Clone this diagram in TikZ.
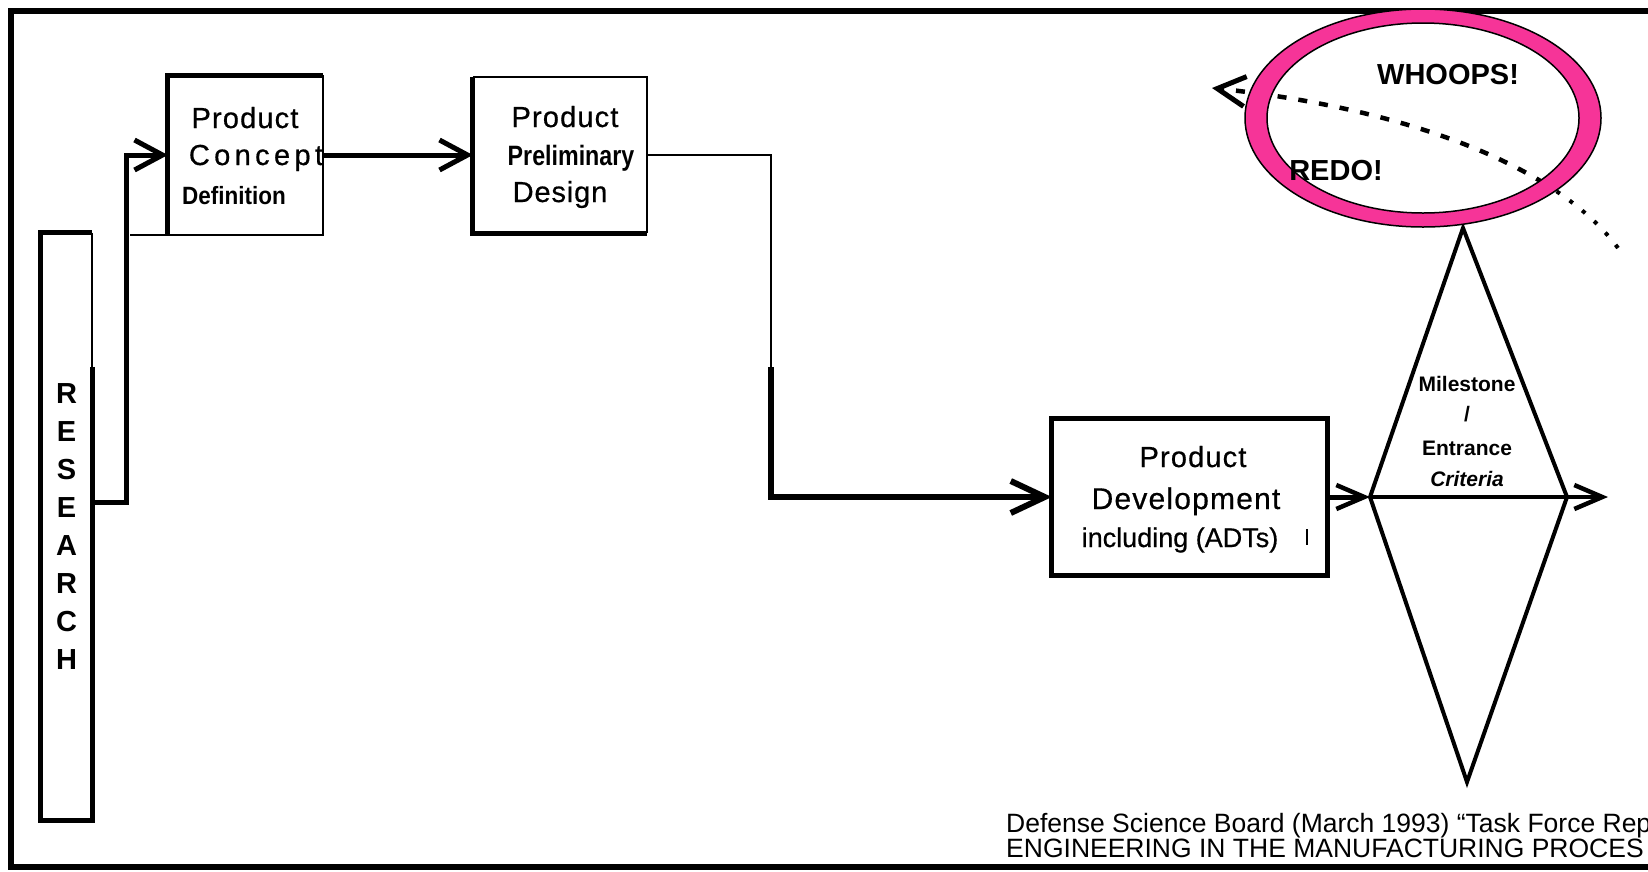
\documentclass[tikz,border=0pt]{standalone}
\usepackage{fontspec}
\usepackage{graphicx}
\setmainfont{Liberation Sans}
\usetikzlibrary{arrows.meta,calc}
\definecolor{ringpink}{RGB}{246,52,152}
\begin{document}
\begin{tikzpicture}[x=1pt,y=-1pt,
  thk/.style={line width=5pt},
  thn/.style={line width=1.8pt},
  box/.style={draw=none, inner sep=0pt},
  barb/.style={-{Straight Barb[length=28pt,width=30pt,line width=5pt]}},
  bigbarb/.style={-{Straight Barb[length=34pt,width=32pt,line width=6pt]}},
  smallbarb/.style={-{Straight Barb[length=28pt,width=24pt,line width=4.5pt]}},
  lbl/.style={anchor=base, inner sep=0pt},
  prodfont/.style={font=\fontsize{29}{29}\selectfont\addfontfeature{LetterSpace=4,FakeBold=0.6}},
  msfont/.style={font=\bfseries\fontsize{21}{21}\selectfont},
  shout/.style={font=\bfseries\fontsize{29}{29}\selectfont},
  citefont/.style={anchor=base west, inner sep=0pt, font=\fontsize{26.5}{26.5}\selectfont},
]
\useasboundingbox (0,0) rectangle (1648,871);
\fill[white] (0,0) rectangle (1648,871);

% frame
\draw[line width=6pt] (1650,11) -- (11,11) -- (11,867) -- (1650,867);

% boxes
\node[box, minimum width=51pt, minimum height=587pt, align=center,
      font=\bfseries\fontsize{29}{38}\selectfont] (research) at (66.5,526.5) {R\\E\\S\\E\\A\\R\\C\\H};
\node[box, minimum width=155pt, minimum height=159pt] (concept) at (245.5,155) {};
\node[box, minimum width=174pt, minimum height=156pt] (prelim) at (560,155) {};
\node[box, minimum width=275pt, minimum height=156pt] (dev) at (1189.5,497) {};

% research borders
\draw[thk] ($(research.north east)+(0,134)$) -- (research.south east) -- (research.south west) -- (research.north west) -- (research.north east);
\draw[thn] (research.north east) -- ++(0,134);
% concept borders
\draw[thk] (concept.south west) -- (concept.north west) -- (concept.north east);
\draw[thn] (concept.north east) -- (concept.south east) -- ++(-193,0);
% prelim borders
\draw[thk] (prelim.north west) -- (prelim.south west) -- (prelim.south east);
\draw[thn] (prelim.north west) -- (prelim.north east) -- (prelim.south east);
% dev borders
\draw[thk] (dev.north west) rectangle (dev.south east);

% texts in boxes
\node[lbl, prodfont] (c1) at (245,128) {Product};
\node[lbl, font=\fontsize{29}{29}\selectfont\addfontfeature{LetterSpace=15,FakeBold=0.6}] (c2) at (256,165) {Concept};
\node[lbl, font=\bfseries\fontsize{25}{25}\selectfont] (c3) at (234,204) {\scalebox{0.9}[1]{Definition}};

\node[lbl, prodfont] (p1) at (565,127) {Product};
\node[lbl, font=\bfseries\fontsize{28}{28}\selectfont] (p2) at (571,165) {\scalebox{0.83}[1]{Preliminary}};
\node[lbl, font=\fontsize{29}{29}\selectfont\addfontfeature{LetterSpace=3,FakeBold=0.6}] (p3) at (560,202) {Design};

\node[lbl, prodfont] (d1) at (1193,467) {Product};
\node[lbl, font=\fontsize{30}{30}\selectfont\addfontfeature{LetterSpace=4,FakeBold=0.6}] (d2) at (1186,509) {Development};
\node[lbl, font=\fontsize{27}{27}\selectfont\addfontfeature{FakeBold=0.6}] (d3) at (1180,547) {including (ADTs)};
\draw[line width=1.5pt] (1307,529) -- (1307,545);

% diamond
\coordinate (dT) at (1463,228);
\coordinate (dL) at (1370,497);
\coordinate (dR) at (1567,497);
\coordinate (dB) at (1467,782);
\coordinate (out) at (1608,497);
\draw[line width=4pt, line join=miter] (dT) -- (dR) -- (dB) -- (dL) -- cycle;
\node[lbl, msfont] (m1) at (1467,391) {Milestone};
\node[lbl, msfont] (m2) at (1467,421) {/};
\node[lbl, msfont] (m3) at (1467,455) {Entrance};
\node[lbl, font=\bfseries\itshape\fontsize{21}{21}\selectfont] (m4) at (1467,486) {Criteria};

% connectors
\draw[thk, barb] ([yshift=24.5pt]research.east) -- ++(34,0) |- (concept.west);
\draw[thk, barb] (concept.east) -- (prelim.west);
\coordinate (bend) at (771,367);
\draw[thn] (prelim.east) -| (bend);
\draw[line width=6pt, bigbarb] (bend) |- (dev.west);
\draw[thk, smallbarb] (dev.east) -- (dL);
\draw[line width=4pt, smallbarb] (dL) -- (out);

% redo curve
\coordinate (cs) at (1618,248);
\coordinate (cm) at (1544,183.2);
\coordinate (ct) at (1212,88);
\draw[line width=4pt, dash pattern=on 4pt off 12pt] (cs) .. controls (1600.6,224.6) and (1575.8,202.8) .. (cm);
\draw[line width=4.5pt, dash pattern=on 9pt off 12pt, barb] (cm) .. controls (1469.9,137.4) and (1357.6,103.4) .. (ct);

% pink ring
\coordinate (rc) at (1423,118);
\fill[ringpink, even odd rule] (rc) ellipse [x radius=178pt, y radius=109pt] (rc) ellipse [x radius=156pt, y radius=95pt];
\draw[line width=1.5pt] (rc) ellipse [x radius=178pt, y radius=109pt];
\draw[line width=1.5pt] (rc) ellipse [x radius=156pt, y radius=95pt];
\node[lbl, shout] (w) at (1448,84) {WHOOPS!};
\node[lbl, shout] (r) at (1336,180) {REDO!};

% citation
\node[citefont] (cite1) at (1006,832) {Defense Science Board (March 1993) “Task Force Rep};
\node[citefont] (cite2) at (1006,857) {ENGINEERING IN THE MANUFACTURING PROCES};
\end{tikzpicture}
\end{document}
